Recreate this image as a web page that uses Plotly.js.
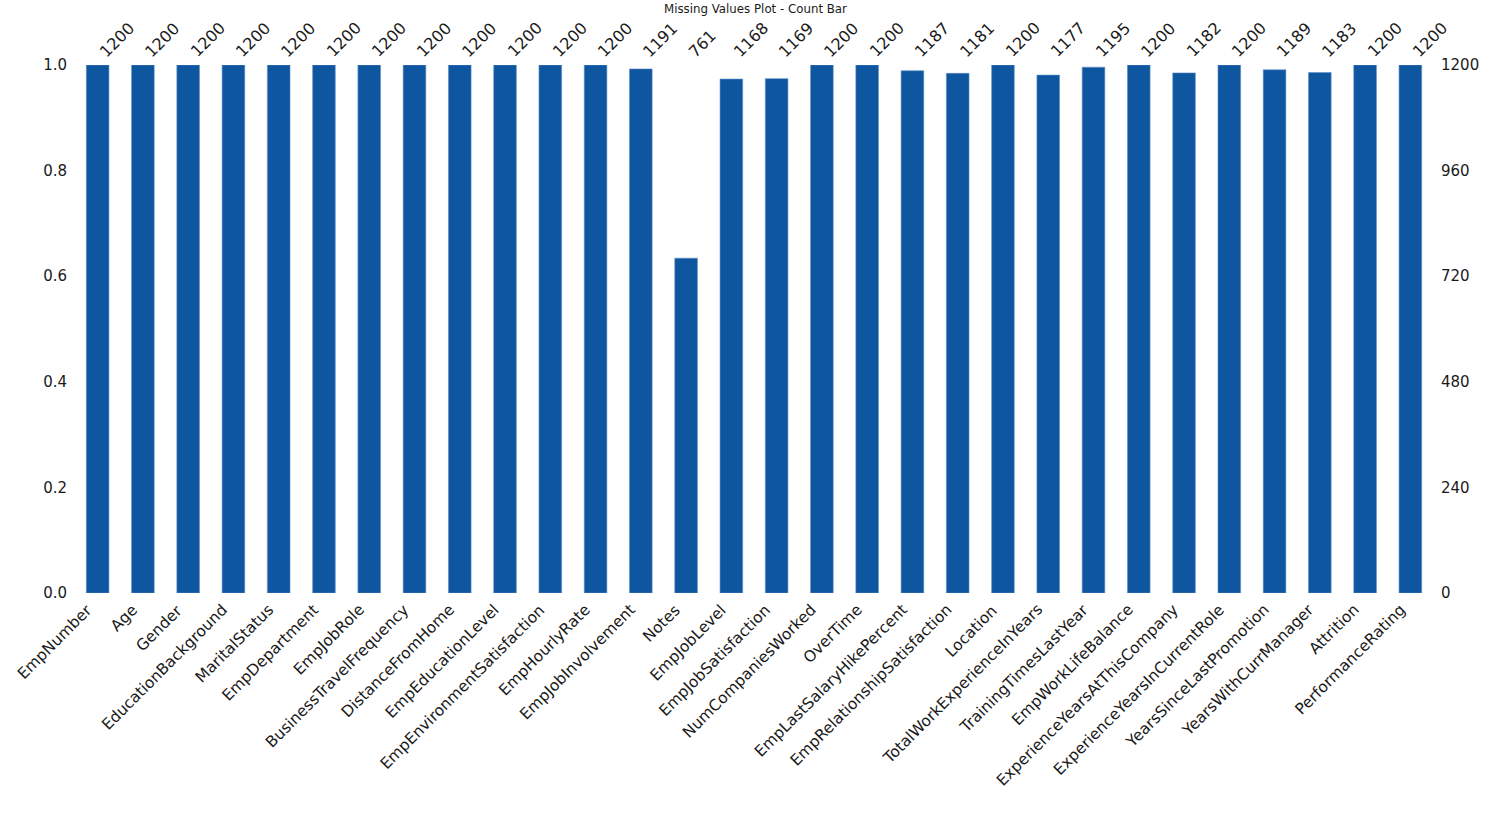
<!DOCTYPE html>
<html>
<head>
<meta charset="utf-8">
<script src="https://cdn.plot.ly/plotly-3.0.1.min.js"></script>
<style>html,body{margin:0;padding:0;background:#fff;}#chart{width:1493px;height:829px;}</style>
</head>
<body>
<div id="chart"></div>
<script>
const categories = ["EmpNumber","Age","Gender","EducationBackground","MaritalStatus","EmpDepartment","EmpJobRole","BusinessTravelFrequency","DistanceFromHome","EmpEducationLevel","EmpEnvironmentSatisfaction","EmpHourlyRate","EmpJobInvolvement","Notes","EmpJobLevel","EmpJobSatisfaction","NumCompaniesWorked","OverTime","EmpLastSalaryHikePercent","EmpRelationshipSatisfaction","Location","TotalWorkExperienceInYears","TrainingTimesLastYear","EmpWorkLifeBalance","ExperienceYearsAtThisCompany","ExperienceYearsInCurrentRole","YearsSinceLastPromotion","YearsWithCurrManager","Attrition","PerformanceRating"];
const counts = [1200,1200,1200,1200,1200,1200,1200,1200,1200,1200,1200,1200,1191,761,1168,1169,1200,1200,1187,1181,1200,1177,1195,1200,1182,1200,1189,1183,1200,1200];
const totalRows = 1200;
const leftTicks = [0.0,0.2,0.4,0.6,0.8,1.0];
const leftTickLabels = ["0.0","0.2","0.4","0.6","0.8","1.0"];
const rightTicks = [0,240,480,720,960,1200];
const rightTickLabels = ["0","240","480","720","960","1200"];

const FONT = "DejaVu Sans, sans-serif";
const TXT = "#1a1a1a";
const idx = categories.map((_, i) => i);

const traces = [
  {
    type: "bar",
    x: idx,
    y: counts.map(c => c / totalRows),
    width: 0.5,
    marker: {color: "#0e56a0", line: {width: 0.6, color: "#5d8fc4"}},
    hoverinfo: "skip",
    xaxis: "x", yaxis: "y"
  },
  {
    type: "bar",
    x: idx,
    y: counts,
    width: 0.5,
    marker: {color: "rgba(0,0,0,0)"},
    hoverinfo: "skip",
    xaxis: "x", yaxis: "y2",
    showlegend: false
  }
];

const countAnnotations = counts.map((c, i) => ({
  x: i, y: 1, xref: "x", yref: "paper",
  text: String(c),
  showarrow: false,
  textangle: -45,
  xanchor: "left", yanchor: "bottom",
  xshift: -4, yshift: 1,
  font: {family: FONT, size: 16, color: TXT}
}));

const categoryAnnotations = categories.map((name, i) => ({
  x: i, y: 0, xref: "x", yref: "paper",
  text: name,
  showarrow: false,
  textangle: -45,
  xanchor: "right", yanchor: "top",
  xshift: 1, yshift: -5,
  font: {family: FONT, size: 15.5, color: TXT}
}));

const layout = {
  width: 1493, height: 829,
  margin: {l: 75, r: 60, t: 65, b: 236},
  paper_bgcolor: "#fff", plot_bgcolor: "#fff",
  showlegend: false,
  barmode: "overlay",
  title: {text: "Missing Values Plot - Count Bar", x: 0.506, xanchor: "center", y: 0.989, yanchor: "middle",
          font: {family: FONT, size: 11.8, color: TXT}},
  xaxis: {
    range: [-0.5, 29.5], tickmode: "array", tickvals: idx, showticklabels: false,
    showgrid: false, zeroline: false, showline: false, ticks: "", fixedrange: true
  },
  yaxis: {
    range: [0, 1], tickmode: "array", tickvals: leftTicks, ticktext: leftTickLabels,
    showgrid: false, zeroline: false, showline: false, ticks: "", ticklabelstandoff: 7,
    tickfont: {family: FONT, size: 15, color: TXT}, fixedrange: true
  },
  yaxis2: {
    range: [0, totalRows], overlaying: "y", side: "right", tickmode: "array",
    tickvals: rightTicks, ticktext: rightTickLabels,
    showgrid: false, zeroline: false, showline: false, ticks: "", ticklabelstandoff: 7,
    tickfont: {family: FONT, size: 15, color: TXT}, fixedrange: true
  },
  annotations: countAnnotations.concat(categoryAnnotations)
};

Plotly.newPlot("chart", traces, layout, {displayModeBar: false, staticPlot: true});
</script>
</body>
</html>
